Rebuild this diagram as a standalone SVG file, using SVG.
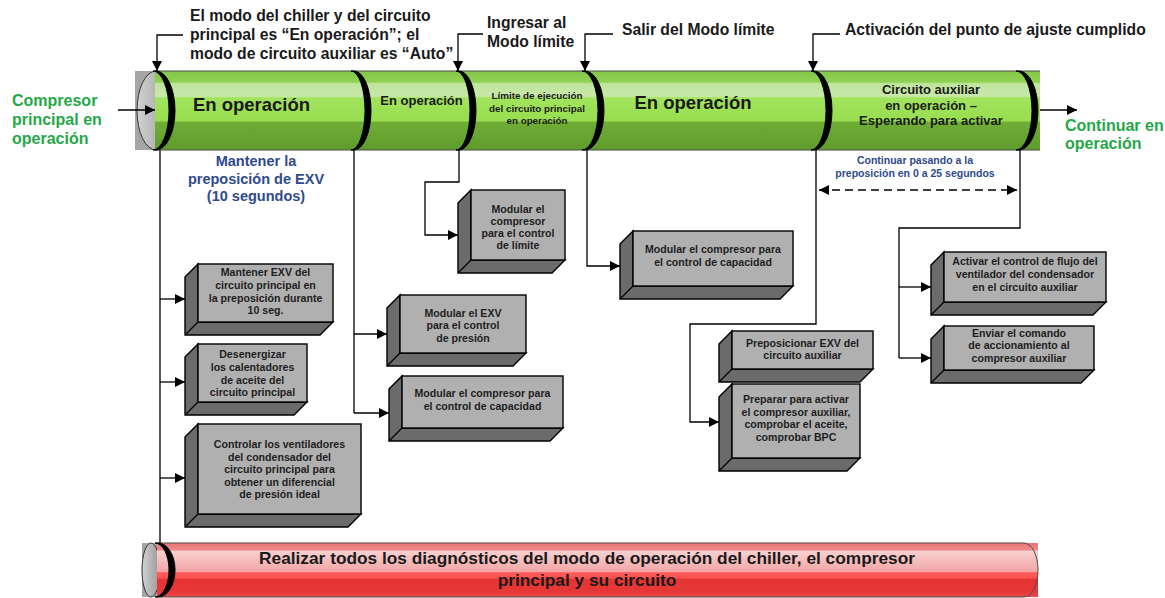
<svg xmlns="http://www.w3.org/2000/svg" width="1165" height="598" viewBox="0 0 1165 598">
  <defs>
    <linearGradient id="gGreen" x1="0" y1="0" x2="0" y2="1">
      <stop offset="0" stop-color="#84c648"/>
      <stop offset="0.14" stop-color="#8fd152"/>
      <stop offset="0.16" stop-color="#bfe49c"/>
      <stop offset="0.32" stop-color="#c8e8aa"/>
      <stop offset="0.34" stop-color="#a3e35e"/>
      <stop offset="0.63" stop-color="#97de4f"/>
      <stop offset="0.65" stop-color="#70ad36"/>
      <stop offset="1" stop-color="#5f9b2b"/>
    </linearGradient>
    <linearGradient id="gRed" x1="0" y1="0" x2="0" y2="1">
      <stop offset="0" stop-color="#ea7676"/>
      <stop offset="0.13" stop-color="#ee8a8a"/>
      <stop offset="0.15" stop-color="#f8d0d0"/>
      <stop offset="0.53" stop-color="#f2a6a6"/>
      <stop offset="0.55" stop-color="#ff5a5a"/>
      <stop offset="0.65" stop-color="#ff5252"/>
      <stop offset="0.67" stop-color="#e63333"/>
      <stop offset="0.9" stop-color="#e63838"/>
      <stop offset="1" stop-color="#ea4c4c"/>
    </linearGradient>
    <linearGradient id="gCap" x1="0" y1="0" x2="1" y2="0">
      <stop offset="0" stop-color="#d2d2d2"/>
      <stop offset="1" stop-color="#979797"/>
    </linearGradient>
    <marker id="ah" markerUnits="userSpaceOnUse" markerWidth="10" markerHeight="10" viewBox="0 0 10 10" refX="10" refY="5" orient="auto-start-reverse">
      <path d="M0,0 L10,5 L0,10 Z" fill="#000"/>
    </marker>
  </defs>
  <style>
    text { font-family: "Liberation Sans", Arial, sans-serif; font-weight: bold; }
    .note { font-size: 15.7px; fill: #1a1a1a; }
    .green { font-size: 16px; fill: #25a848; }
    .blue { fill: #2f4a8d; text-anchor: middle; }
    .sec { fill: #1a1a1a; text-anchor: middle; }
    .box { font-size: 10.6px; fill: #1e1e1e; text-anchor: middle; }
    .slab { fill: #6b6b6b; stroke: #000; stroke-width: 1.4; stroke-linejoin: miter; }
    .face { fill: #b0b0b0; stroke: #000; stroke-width: 1.4; }
    .edge { stroke: #000; stroke-width: 1.2; fill: none; }
    .ring { fill: #000; stroke: #000; stroke-width: 1; stroke-linejoin: round; }
    .wire { fill: none; stroke: #000; stroke-width: 1.3; }
    .arrow { marker-end: url(#ah); }
    .rim { fill: none; stroke: #4d4d4d; stroke-width: 1; }
  </style>
  <rect width="1165" height="598" fill="#fff"/>

  <!-- main timeline pipe -->
  <g id="pipe-main">
    <rect x="135" y="71" width="25" height="79" fill="#a5a5a5"/>
    <ellipse cx="156" cy="110.5" rx="19" ry="39.5" fill="url(#gCap)" stroke="#333" stroke-width="1"/>
    <rect x="155" y="71" width="885" height="79" fill="url(#gGreen)"/>
    <line class="rim" x1="155" y1="71" x2="1040" y2="71"/>
    <line class="rim" x1="155" y1="150" x2="1040" y2="150"/>
    <path class="ring" d="M156,71 A19,39.5 0 0 1 156,150 L153,150 A16,39.5 0 0 0 153,71 Z"/>
    <path class="ring" d="M354,71 A17,39.5 0 0 1 354,150 L351,150 A14,39.5 0 0 0 351,71 Z"/>
    <path class="ring" d="M459,71 A17,39.5 0 0 1 459,150 L456,150 A14,39.5 0 0 0 456,71 Z"/>
    <path class="ring" d="M585,71 A19,39.5 0 0 1 585,150 L582,150 A16,39.5 0 0 0 582,71 Z"/>
    <path class="ring" d="M814,71 A18,39.5 0 0 1 814,150 L811,150 A15,39.5 0 0 0 811,71 Z"/>
    <path class="ring" d="M1019,71 A19,39.5 0 0 1 1019,150 L1016,150 A16,39.5 0 0 0 1016,71 Z"/>
    <text class="sec" x="251.5" y="111" font-size="18.5">En operación</text>
    <text class="sec" x="421.5" y="105" font-size="13">En operación</text>
    <text class="sec" font-size="9.8"><tspan x="537" y="99">Límite de ejecución</tspan><tspan x="537" y="112">del circuito principal</tspan><tspan x="537" y="124">en operación</tspan></text>
    <text class="sec" x="693" y="109" font-size="18.5">En operación</text>
    <text class="sec" font-size="13"><tspan x="931" y="94">Circuito auxiliar</tspan><tspan x="931" y="109.5">en operación –</tspan><tspan x="931" y="125">Esperando para activar</tspan></text>
  </g>

  <!-- diagnostics pipe -->
  <g id="pipe-diagnostics">
    <rect x="142" y="543" width="16" height="54" fill="#a5a5a5"/>
    <ellipse cx="151" cy="570" rx="9" ry="27" fill="url(#gCap)" stroke="#333" stroke-width="1"/>
    <rect x="157" y="543" width="881" height="54" fill="url(#gRed)"/>
    <path class="rim" d="M157,543 H1024 A14,27 0 0 1 1024,597 H157"/>
    <path class="ring" d="M158,543 A17,27 0 0 1 158,597 L155,597 A14,27 0 0 0 155,543 Z"/>
    <text class="sec" font-size="17.3"><tspan x="587" y="564">Realizar todos los diagnósticos del modo de operación del chiller, el compresor</tspan><tspan x="587" y="586">principal y su circuito</tspan></text>
  </g>

  <!-- event labels -->
  <g id="label-start">
    <text class="note"><tspan x="190" y="21">El modo del chiller y del circuito</tspan><tspan x="190" y="40">principal es “En operación”; el</tspan><tspan x="190" y="59">modo de circuito auxiliar es “Auto”</tspan></text>
  </g>
  <g id="label-enter-limit">
    <text class="note"><tspan x="487" y="28">Ingresar al</tspan><tspan x="487" y="47">Modo límite</tspan></text>
  </g>
  <g id="label-exit-limit">
    <text class="note" x="622" y="35">Salir del Modo límite</text>
  </g>
  <g id="label-setpoint">
    <text class="note" x="845" y="35">Activación del punto de ajuste cumplido</text>
  </g>
  <g id="label-compressor-on">
    <text class="green"><tspan x="12" y="106">Compresor</tspan><tspan x="12" y="125">principal en</tspan><tspan x="12" y="144">operación</tspan></text>
  </g>
  <g id="label-continue">
    <text class="green"><tspan x="1065" y="131">Continuar en</tspan><tspan x="1065" y="149">operación</tspan></text>
  </g>
  <g id="label-hold-exv">
    <text class="blue" font-size="14.5"><tspan x="256" y="166">Mantener la</tspan><tspan x="256" y="184">preposición de EXV</tspan><tspan x="256" y="201">(10 segundos)</tspan></text>
  </g>
  <g id="label-preposition">
    <text class="blue" font-size="10.5"><tspan x="915" y="164">Continuar pasando a la</tspan><tspan x="915" y="177">preposición en 0 a 25 segundos</tspan></text>
  </g>

  <!-- action boxes -->
  <g id="box-hold-exv">
    <path class="slab" d="M185,277 L198,264 L198,322 L333,322 L320,335 L185,335 Z"/>
    <rect class="face" x="198" y="264" width="135" height="58"/>
    <line class="edge" x1="185" y1="335" x2="198" y2="322"/>
    <text class="box"><tspan x="265.5" y="276">Mantener EXV del</tspan><tspan x="265.5" y="289">circuito principal en</tspan><tspan x="265.5" y="301.5">la preposición durante</tspan><tspan x="265.5" y="314">10 seg.</tspan></text>
  </g>
  <g id="box-heaters">
    <path class="slab" d="M185,357 L198,344 L198,402 L307,402 L294,415 L185,415 Z"/>
    <rect class="face" x="198" y="344" width="109" height="58"/>
    <line class="edge" x1="185" y1="415" x2="198" y2="402"/>
    <text class="box"><tspan x="252.5" y="358">Desenergizar</tspan><tspan x="252.5" y="371">los calentadores</tspan><tspan x="252.5" y="384">de aceite del</tspan><tspan x="252.5" y="396">circuito principal</tspan></text>
  </g>
  <g id="box-fans-main">
    <path class="slab" d="M185,437 L198,424 L198,514 L361,514 L348,527 L185,527 Z"/>
    <rect class="face" x="198" y="424" width="163" height="90"/>
    <line class="edge" x1="185" y1="527" x2="198" y2="514"/>
    <text class="box"><tspan x="279.5" y="448">Controlar los ventiladores</tspan><tspan x="279.5" y="461">del condensador del</tspan><tspan x="279.5" y="473">circuito principal para</tspan><tspan x="279.5" y="486">obtener un diferencial</tspan><tspan x="279.5" y="498">de presión ideal</tspan></text>
  </g>
  <g id="box-limit-control">
    <path class="slab" d="M458,203 L471,190 L471,260 L565,260 L552,273 L458,273 Z"/>
    <rect class="face" x="471" y="190" width="94" height="70"/>
    <line class="edge" x1="458" y1="273" x2="471" y2="260"/>
    <text class="box"><tspan x="518" y="213">Modular el</tspan><tspan x="518" y="225">compresor</tspan><tspan x="518" y="237">para el control</tspan><tspan x="518" y="249">de límite</tspan></text>
  </g>
  <g id="box-exv-pressure">
    <path class="slab" d="M387,308 L400,295 L400,353 L526,353 L513,366 L387,366 Z"/>
    <rect class="face" x="400" y="295" width="126" height="58"/>
    <line class="edge" x1="387" y1="366" x2="400" y2="353"/>
    <text class="box"><tspan x="463" y="317">Modular el EXV</tspan><tspan x="463" y="329">para el control</tspan><tspan x="463" y="342">de presión</tspan></text>
  </g>
  <g id="box-capacity-1">
    <path class="slab" d="M389,389 L402,376 L402,428 L563,428 L550,441 L389,441 Z"/>
    <rect class="face" x="402" y="376" width="161" height="52"/>
    <line class="edge" x1="389" y1="441" x2="402" y2="428"/>
    <text class="box"><tspan x="482.5" y="397">Modular el compresor para</tspan><tspan x="482.5" y="410">el control de capacidad</tspan></text>
  </g>
  <g id="box-capacity-2">
    <path class="slab" d="M620,244 L633,231 L633,286 L793,286 L780,299 L620,299 Z"/>
    <rect class="face" x="633" y="231" width="160" height="55"/>
    <line class="edge" x1="620" y1="299" x2="633" y2="286"/>
    <text class="box"><tspan x="713" y="253">Modular el compresor para</tspan><tspan x="713" y="266">el control de capacidad</tspan></text>
  </g>
  <g id="box-preposition-aux">
    <path class="slab" d="M719,344 L732,331 L732,369 L873,369 L860,382 L719,382 Z"/>
    <rect class="face" x="732" y="331" width="141" height="38"/>
    <line class="edge" x1="719" y1="382" x2="732" y2="369"/>
    <text class="box"><tspan x="802.5" y="347">Preposicionar EXV del</tspan><tspan x="802.5" y="359">circuito auxiliar</tspan></text>
  </g>
  <g id="box-prepare-aux">
    <path class="slab" d="M719,397 L732,384 L732,458 L860,458 L847,471 L719,471 Z"/>
    <rect class="face" x="732" y="384" width="128" height="74"/>
    <line class="edge" x1="719" y1="471" x2="732" y2="458"/>
    <text class="box"><tspan x="796" y="403">Preparar para activar</tspan><tspan x="796" y="416">el compresor auxiliar,</tspan><tspan x="796" y="428">comprobar el aceite,</tspan><tspan x="796" y="441">comprobar BPC</tspan></text>
  </g>
  <g id="box-fan-flow-aux">
    <path class="slab" d="M931,265 L944,252 L944,302 L1106,302 L1093,315 L931,315 Z"/>
    <rect class="face" x="944" y="252" width="162" height="50"/>
    <line class="edge" x1="931" y1="315" x2="944" y2="302"/>
    <text class="box"><tspan x="1025" y="265">Activar el control de flujo del</tspan><tspan x="1025" y="278">ventilador del condensador</tspan><tspan x="1025" y="291">en el circuito auxiliar</tspan></text>
  </g>
  <g id="box-start-aux">
    <path class="slab" d="M931,339 L944,326 L944,370 L1094,370 L1081,383 L931,383 Z"/>
    <rect class="face" x="944" y="326" width="150" height="44"/>
    <line class="edge" x1="931" y1="383" x2="944" y2="370"/>
    <text class="box"><tspan x="1019" y="337">Enviar el comando</tspan><tspan x="1019" y="349">de accionamiento al</tspan><tspan x="1019" y="362">compresor auxiliar</tspan></text>
  </g>

  <!-- connectors -->
  <g id="connectors">
    <path class="wire arrow" d="M183,35 H157 V71"/>
    <path class="wire arrow" d="M483,34 H458 V71"/>
    <path class="wire arrow" d="M613,34 H585 V71"/>
    <path class="wire arrow" d="M840,34 H813 V71"/>
    <path class="wire arrow" d="M118,110 H155"/>
    <path class="wire arrow" d="M1040,110 H1077"/>

    <path class="wire" d="M160,150 V543"/>
    <path class="wire arrow" d="M160,299 H185"/>
    <path class="wire arrow" d="M160,382 H185"/>
    <path class="wire arrow" d="M160,478 H185"/>

    <path class="wire" d="M354,150 V413"/>
    <path class="wire arrow" d="M354,334 H387"/>
    <path class="wire arrow" d="M354,413 H389"/>

    <path class="wire arrow" d="M459,150 V182 H425 V235 H458"/>
    <path class="wire arrow" d="M587,150 V266 H620"/>
    <path class="wire arrow" d="M816,150 V324 H690 V422 H719"/>

    <path class="wire" d="M1020,150 V228 H899 V358"/>
    <path class="wire arrow" d="M899,287 H931"/>
    <path class="wire arrow" d="M899,358 H931"/>

    <path class="wire" d="M819,190 H1017" stroke-dasharray="8 5" marker-start="url(#ah)" marker-end="url(#ah)"/>
  </g>
</svg>
